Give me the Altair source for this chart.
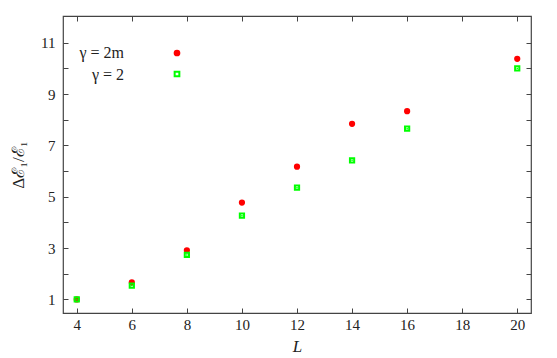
import altair as alt
import pandas as pd

L_vals = [4, 6, 8, 10, 12, 14, 16, 20]
red_vals = [1.0, 1.66, 2.91, 4.77, 6.17, 7.84, 8.33, 10.37]
green_vals = [1.0, 1.54, 2.73, 4.26, 5.35, 6.42, 7.65, 10.0]
series_names = ["γ = 2m", "γ = 2"]
x_ticks = [4, 6, 8, 10, 12, 14, 16, 18, 20]
y_ticks = list(range(1, 12))

rows = []
for L, v in zip(L_vals, red_vals):
    rows.append({"L": L, "val": v, "series": series_names[0]})
for L, v in zip(L_vals, green_vals):
    rows.append({"L": L, "val": v, "series": series_names[1]})
df = pd.DataFrame(rows)

FONT = "Liberation Serif, Times New Roman, serif"
AX = "#444444"
TXT = "#222222"
xscale = alt.Scale(domain=[3.5, 20.5], nice=False, zero=False)
yscale = alt.Scale(domain=[0.47, 12.04], nice=False, zero=False)

# legend: entry names shown as a right-aligned multi-line title to the left of the symbols
leg = alt.Legend(
    orient="none", legendX=16, legendY=29, padding=0,
    title=series_names, titleOrient="left", titleAlign="right",
    titleAnchor="start", titleBaseline="top", titleLineHeight=22,
    titleFont=FONT, titleFontSize=16, titleFontWeight="normal",
    titleColor=TXT, titlePadding=0,
    labelExpr="'\u00a0'", labelFont=FONT, labelFontSize=16,
    rowPadding=5, symbolStrokeWidth=2, symbolSize=22, labelBaseline="middle",
)

base = alt.Chart(df)

pts = base.mark_point(opacity=1, strokeWidth=2, size=18).encode(
    x=alt.X("L:Q", scale=xscale, axis=alt.Axis(
        orient="bottom", values=x_ticks, offset=-5, tickSize=5, domain=False,
        grid=False, title="L", titleFontStyle="italic", titleFont=FONT,
        titleFontSize=17, titleFontWeight="normal", titleColor=TXT,
        titlePadding=6, labelFont=FONT, labelFontSize=15, labelColor=TXT,
        labelPadding=4, tickColor=AX, labelFlush=False)),
    y=alt.Y("val:Q", scale=yscale, axis=alt.Axis(
        orient="left", values=y_ticks, offset=-5, tickSize=5, domain=False,
        grid=False, title="Δℰ₁/ℰ₁", titleFont=FONT, titleFontSize=17,
        titleFontWeight="normal", titleColor=TXT, titlePadding=13,
        labelFont=FONT, labelFontSize=15, labelColor=TXT, labelPadding=8,
        labelExpr="datum.value % 2 == 1 ? datum.label : ''", tickColor=AX,
        labelFlush=False)),
    shape=alt.Shape("series:N", scale=alt.Scale(domain=series_names, range=["circle", "square"]), legend=leg),
    stroke=alt.Stroke("series:N", scale=alt.Scale(domain=series_names, range=["#ff0000", "#00ff00"]), legend=leg),
    fill=alt.Fill("series:N", scale=alt.Scale(domain=series_names, range=["#ff0000", "transparent"]), legend=leg),
)

dots = base.transform_filter(alt.datum.series == series_names[1]).mark_square(
    size=2, color="#00ff00", opacity=1
).encode(
    x=alt.X("L:Q", scale=xscale, axis=alt.Axis(
        orient="top", values=x_ticks, labels=False, offset=-5, tickSize=5,
        domain=False, grid=False, title=None, tickColor=AX)),
    y=alt.Y("val:Q", scale=yscale, axis=alt.Axis(
        orient="right", values=y_ticks, labels=False, offset=-5, tickSize=5,
        domain=False, grid=False, title=None, tickColor=AX)),
)

chart = alt.layer(pts, dots).resolve_axis(x="independent", y="independent").properties(
    width=468, height=297,
    autosize=alt.AutoSizeParams(type="none"),
    padding={"left": 55, "top": 8, "right": 10, "bottom": 45},
).configure_view(stroke=AX, strokeWidth=1.2)

chart.save("out.html", embed_options={"renderer": "svg", "actions": False})
